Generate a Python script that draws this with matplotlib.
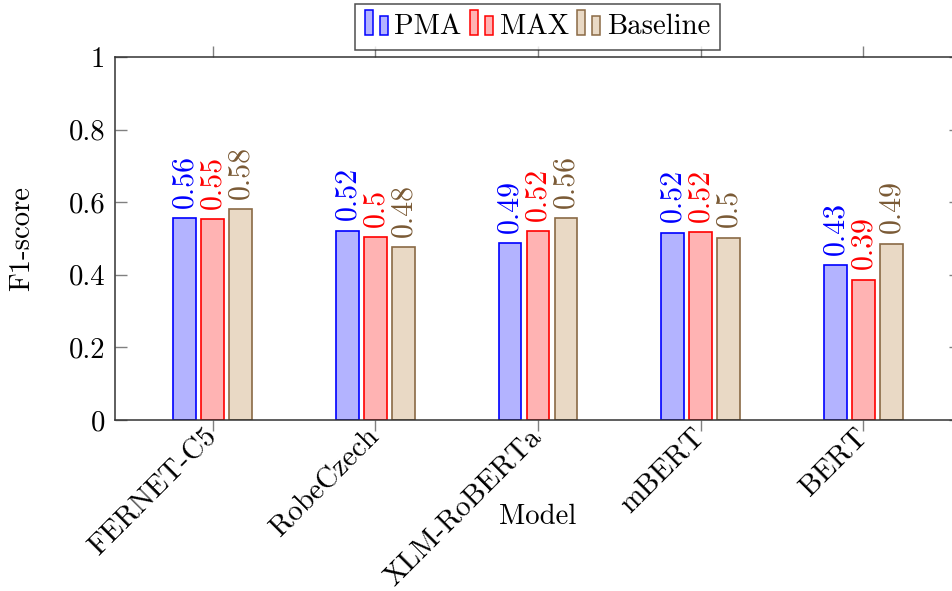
import matplotlib
matplotlib.use("Agg")
import matplotlib.pyplot as plt
import numpy as np
from matplotlib.legend_handler import HandlerBase
from matplotlib.patches import Rectangle

plt.rcParams["font.family"] = "serif"
plt.rcParams["font.serif"] = ["cmr10", "DejaVu Serif"]
plt.rcParams["axes.formatter.use_mathtext"] = True
plt.rcParams["mathtext.fontset"] = "cm"

models = ["FERNET-C5", "RobeCzech", "XLM-RoBERTa", "mBERT", "BERT"]
pma = [0.556, 0.521, 0.487, 0.516, 0.426]
maxv = [0.553, 0.503, 0.520, 0.518, 0.386]
baseline = [0.580, 0.476, 0.556, 0.502, 0.486]
series_names = ["PMA", "MAX", "Baseline"]
yticks = [0, 0.2, 0.4, 0.6, 0.8, 1.0]

fills = ["#b3b3ff", "#ffb3b3", "#e9d9c5"]
edges = ["#0000ff", "#ff0000", "#8a6a45"]
text_cols = ["#0000ff", "#ff0000", "#7a5a35"]

FS = 20.7
FS_BAR = 21.5
FS_X = 21.0

fig = plt.figure(figsize=(9.52, 5.91), dpi=100)
ax = fig.add_axes([115 / 952, 171 / 591, (961 - 115) / 952, (420 - 57) / 591])

x = np.arange(len(models))
pitch = 0.172
width = 0.14
handles = []
for i, (vals, name) in enumerate(zip([pma, maxv, baseline], series_names)):
    xs = x + (i - 1) * pitch
    bars = ax.bar(xs, vals, width=width, color=fills[i], edgecolor=edges[i],
                  linewidth=1.2, label=name, zorder=2)
    handles.append(bars[0])
    for xi, v in zip(xs, vals):
        ax.annotate(f"{round(v, 2):g}", (xi, v), xytext=(0, 7.5),
                    textcoords="offset points", rotation=90,
                    ha="center", va="bottom", color=text_cols[i],
                    fontsize=FS_BAR)

ax.set_xlim(-0.6, 4.6)
ax.set_ylim(0, 1)
ax.set_yticks(yticks)
ax.set_yticklabels([f"{t:g}" for t in yticks])
ax.set_xticks(x)
ax.set_xticklabels(models, rotation=45, ha="right", va="center",
                   rotation_mode="anchor")

ax.tick_params(axis="y", direction="in", length=8.5, width=1.0, color="#808080",
               left=True, right=True, labelsize=FS, pad=7)
ax.tick_params(axis="x", direction="out", length=8, width=1.0, color="#808080",
               bottom=True, top=True, labelsize=FS_X, pad=1.0)
for s in ax.spines.values():
    s.set_color("#333333")
    s.set_linewidth(1.1)

ax.set_ylabel("F1-score", fontsize=FS)
ax.yaxis.set_label_coords((35 - 115) / (961 - 115), 0.5)
ax.set_xlabel("Model", fontsize=FS, va="center")
ax.xaxis.set_label_coords((538 - 115) / (961 - 115), (420 - 517) / (420 - 57))


class TwoBarHandler(HandlerBase):
    def create_artists(self, legend, orig_handle, xdescent, ydescent,
                       width, height, fontsize, trans):
        fc = orig_handle.get_facecolor()
        ec = orig_handle.get_edgecolor()
        w = width * 0.35
        r1 = Rectangle((-xdescent, -ydescent - 0.05 * height), w, height * 1.25,
                       facecolor=fc, edgecolor=ec, linewidth=1.1, transform=trans)
        r2 = Rectangle((-xdescent + width * 0.65, -ydescent - 0.05 * height), w,
                       height * 0.92, facecolor=fc, edgecolor=ec, linewidth=1.1,
                       transform=trans)
        return [r1, r2]


leg = fig.legend(handles, series_names, loc="lower center",
                 bbox_to_anchor=(537.5 / 952, (591 - 50) / 591), ncol=3,
                 fontsize=FS, frameon=True, fancybox=False, borderaxespad=0,
                 handlelength=0.8, handletextpad=0.22, columnspacing=0.3,
                 borderpad=0.35, handler_map={h: TwoBarHandler() for h in handles})
leg.get_frame().set_edgecolor("#222222")
leg.get_frame().set_linewidth(1.1)

fig.savefig("out.png", dpi=100)
